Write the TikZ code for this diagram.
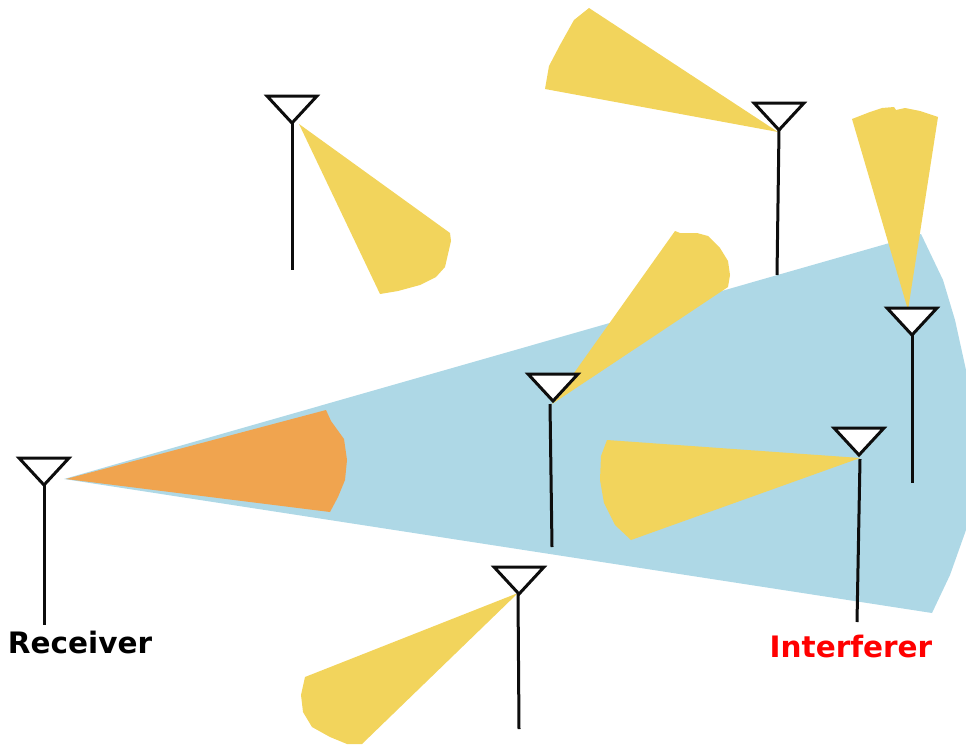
\documentclass[tikz,border=0pt]{standalone}
\usepackage{fontspec}
\setmainfont{DejaVu Sans}
\definecolor{beamblue}{HTML}{AED8E6}
\definecolor{beamyellow}{HTML}{F2D45C}
\definecolor{beamorange}{HTML}{F0A44F}
\newcommand{\antenna}[6]{% tip x, tip y, stem top x, y, bottom x, y
  \fill[white] (#1-25,#2-27) -- (#1+25,#2-27) -- (#1,#2) -- cycle;
  \draw[antline] (#1-25,#2-27) -- (#1+25,#2-27) -- (#1,#2) -- cycle;
  \draw[antline] (#3,#4) -- (#5,#6);}
\tikzset{antline/.style={draw=black!95,line width=3pt,line join=miter},
  lbl/.style={font=\bfseries\fontsize{29.5}{34}\selectfont,inner sep=0pt,anchor=base}}
\begin{document}
\begin{tikzpicture}[x=1pt,y=-1pt]
\useasboundingbox (0,0) rectangle (966,744);
% blue main beam
\fill[beamblue] (64,479) -- (921,234) -- (943,280) -- (955,320) -- (966,370) -- (966,530) -- (950,575) -- (932,613) -- cycle;
% orange
\fill[beamorange] (66,479) -- (326,410) -- (331,421) -- (344,439) -- (347,460) -- (345,480) -- (338,497) -- (330,512) -- cycle;
% yellow beams
\fill[beamyellow] (778,132) -- (545,89) -- (549,66) -- (560,45) -- (574,20) -- (589,8) -- cycle;
\fill[beamyellow] (299,124) -- (450,233) -- (451,241) -- (445,267) -- (436,277) -- (420,285) -- (398,291) -- (380,294) -- cycle;
\fill[beamyellow] (908,310) -- (852,119) -- (870,112) -- (882,108) -- (894,107) -- (896,110) -- (905,108) -- (920,111) -- (938,117) -- cycle;
\fill[beamyellow] (552,404) -- (675,231) -- (680,233) -- (697,233) -- (708,236) -- (720,248) -- (728,261) -- (730,275) -- (728,287) -- cycle;
\fill[beamyellow] (860,458) -- (607,440) -- (601,456) -- (600,480) -- (604,503) -- (615,525) -- (631,540) -- cycle;
\fill[beamyellow] (518,593) -- (305,677) -- (301,695) -- (303,712) -- (312,727) -- (330,737) -- (347,744) -- (362,744) -- cycle;
% antennas
\antenna{44}{485}{44}{485}{44}{625}
\antenna{292}{123}{292}{123}{292}{270}
\antenna{779}{130}{779}{130}{777}{275}
\antenna{912}{335}{912}{335}{912}{483}
\antenna{553}{401}{550}{404}{552}{547}
\antenna{859}{455}{860}{459}{857}{622}
\antenna{519}{594}{518}{594}{519}{729}
% labels
\node[lbl,text=black] (rx) at (80,653) {Receiver};
\node[lbl,text=red] (ix) at (851,657) {Interferer};
\end{tikzpicture}
\end{document}
